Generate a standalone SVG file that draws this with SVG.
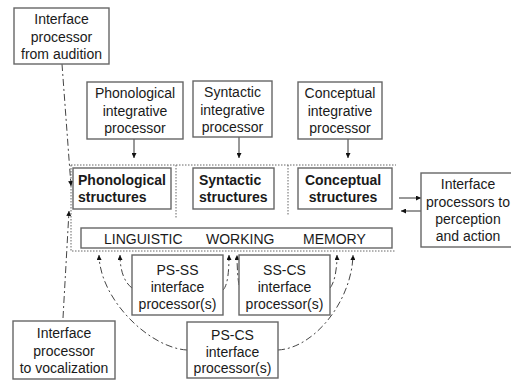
<svg xmlns="http://www.w3.org/2000/svg" width="511" height="381" viewBox="0 0 511 381">
  <style>
    .box { fill: #fff; stroke: #666; stroke-width: 1.4; }
    .t { font-family: "Liberation Sans", Arial, sans-serif; font-size: 14px; fill: #1a1a1a; text-anchor: middle; }
    .b { font-weight: bold; }
    .l { text-anchor: start; }
    .solid { fill: none; stroke: #333; stroke-width: 1; }
    .dash { fill: none; stroke: #444; stroke-width: 1; stroke-dasharray: 7 3 2 3; }
    .dot { fill: none; stroke: #666; stroke-width: 1; stroke-dasharray: 1.5 1.5; }
  </style>
  <defs>
    <marker id="ah" viewBox="0 0 6 6" refX="6" refY="3" markerWidth="5" markerHeight="5" orient="auto" markerUnits="userSpaceOnUse">
      <path d="M0,0 L6,3 L0,6 Z" fill="#111"/>
    </marker>
  </defs>
  <rect width="511" height="381" fill="#fff"/>

  <!-- dotted frame around the structure stores -->
  <g id="frame">
    <path class="dot" d="M71,165 H396 M71,165 V251 H396 M176,165 V218 M288,165 V216"/>
  </g>

  <g id="connectors">
    <!-- integrative processors feed their structures -->
    <line class="solid" x1="134" y1="139" x2="134" y2="158" marker-end="url(#ah)"/>
    <line class="solid" x1="239" y1="137" x2="239" y2="158" marker-end="url(#ah)"/>
    <line class="solid" x1="348" y1="139" x2="348" y2="158" marker-end="url(#ah)"/>
    <!-- conceptual structures <-> perception/action -->
    <line class="solid" x1="399" y1="198" x2="421" y2="198" marker-end="url(#ah)"/>
    <line class="solid" x1="421" y1="211" x2="401" y2="211" marker-end="url(#ah)"/>
    <!-- audition in, vocalization out -->
    <path class="dash" d="M62,64 L71,186" marker-end="url(#ah)"/>
    <path class="dash" d="M63,318 L69,211" marker-end="url(#ah)"/>
    <!-- interface processors to working memory -->
    <path class="dash" d="M187,350 C150,348 100,300 99,255" marker-end="url(#ah)"/>
    <path class="dash" d="M278,350 C315,348 352,300 353,255" marker-end="url(#ah)"/>
    <path class="dash" d="M132,288 C124,282 120,270 120,255" marker-end="url(#ah)"/>
    <path class="dash" d="M223,290 C228,285 229,270 229,255" marker-end="url(#ah)"/>
    <path class="dash" d="M239,285 C238,280 237,268 237,255" marker-end="url(#ah)"/>
    <path class="dash" d="M330,288 C335,282 337,268 337,255" marker-end="url(#ah)"/>
  </g>

  <g id="audition">
    <rect class="box" x="14" y="8" width="95" height="56"/>
    <text class="t" x="61.5" y="24">Interface</text>
    <text class="t" x="61.5" y="42">processor</text>
    <text class="t" x="61.5" y="59">from audition</text>
  </g>

  <g id="phon-proc">
    <rect class="box" x="87" y="82" width="96" height="57"/>
    <text class="t" x="135" y="98">Phonological</text>
    <text class="t" x="135" y="116">integrative</text>
    <text class="t" x="135" y="133">processor</text>
  </g>

  <g id="syn-proc">
    <rect class="box" x="193" y="81" width="79" height="56"/>
    <text class="t" x="232.5" y="97">Syntactic</text>
    <text class="t" x="232.5" y="115">integrative</text>
    <text class="t" x="232.5" y="132">processor</text>
  </g>

  <g id="con-proc">
    <rect class="box" x="298" y="82" width="84" height="57"/>
    <text class="t" x="340" y="98">Conceptual</text>
    <text class="t" x="340" y="116">integrative</text>
    <text class="t" x="340" y="133">processor</text>
  </g>

  <g id="phon-struct">
    <rect class="box" x="73" y="168" width="98" height="41"/>
    <text class="t b l" x="78" y="185">Phonological</text>
    <text class="t b l" x="78" y="202">structures</text>
  </g>

  <g id="syn-struct">
    <rect class="box" x="193" y="168" width="81" height="41"/>
    <text class="t b l" x="199" y="185">Syntactic</text>
    <text class="t b l" x="199" y="202">structures</text>
  </g>

  <g id="con-struct">
    <rect class="box" x="298" y="168" width="94" height="41"/>
    <text class="t b" x="343" y="185">Conceptual</text>
    <text class="t b" x="343" y="202">structures</text>
  </g>

  <g id="perception">
    <rect class="box" x="421" y="173" width="100" height="74"/>
    <text class="t" x="468" y="189">Interface</text>
    <text class="t" x="468" y="207">processors to</text>
    <text class="t" x="468" y="224">perception</text>
    <text class="t" x="468" y="241">and action</text>
  </g>

  <g id="memory">
    <rect class="box" x="81" y="228" width="311" height="20"/>
    <text class="t l" x="104" y="244">LINGUISTIC</text>
    <text class="t l" x="206" y="244">WORKING</text>
    <text class="t l" x="303" y="244">MEMORY</text>
  </g>

  <g id="ps-ss">
    <rect class="box" x="132" y="255" width="91" height="60"/>
    <text class="t" x="177.5" y="275">PS-SS</text>
    <text class="t" x="177.5" y="292">interface</text>
    <text class="t" x="177.5" y="309">processor(s)</text>
  </g>

  <g id="ss-cs">
    <rect class="box" x="239" y="255" width="91" height="60"/>
    <text class="t" x="284.5" y="275">SS-CS</text>
    <text class="t" x="284.5" y="292">interface</text>
    <text class="t" x="284.5" y="309">processor(s)</text>
  </g>

  <g id="ps-cs">
    <rect class="box" x="187" y="322" width="91" height="56"/>
    <text class="t" x="232.5" y="340">PS-CS</text>
    <text class="t" x="232.5" y="357">interface</text>
    <text class="t" x="232.5" y="373">processor(s)</text>
  </g>

  <g id="vocalization">
    <rect class="box" x="13" y="321" width="102" height="58"/>
    <text class="t" x="64" y="338">Interface</text>
    <text class="t" x="64" y="356">processor</text>
    <text class="t" x="64" y="373">to vocalization</text>
  </g>
</svg>
